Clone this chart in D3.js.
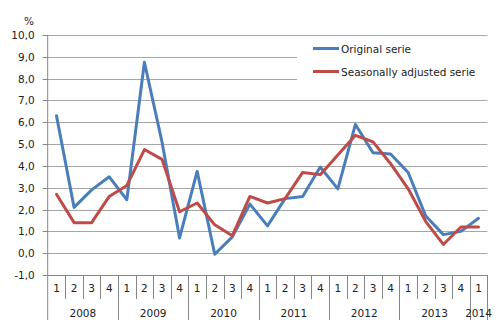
<!DOCTYPE html>
<html>
<head>
<meta charset="utf-8">
<script src="https://cdn.jsdelivr.net/npm/d3@7"></script>
<style>
  html, body { margin: 0; padding: 0; background: #fff; }
  svg { display: block; font-family: "DejaVu Sans", Verdana, sans-serif; }
</style>
</head>
<body>
<svg id="chart" width="501" height="327"></svg>
<script>
const years = ["2008", "2009", "2010", "2011", "2012", "2013", "2014"];
const quartersPerYear = [4, 4, 4, 4, 4, 4, 1];
const yTicks = [-1, 0, 1, 2, 3, 4, 5, 6, 7, 8, 9, 10];
const seriesNames = ["Original serie", "Seasonally adjusted serie"];
const original = [6.3, 2.1, 2.9, 3.5, 2.45, 8.75, 5.1, 0.7, 3.75, -0.05, 0.75, 2.25, 1.25, 2.5, 2.6, 3.95, 2.95, 5.9, 4.6, 4.55, 3.7, 1.7, 0.85, 1.0, 1.6];
const adjusted = [2.7, 1.4, 1.4, 2.6, 3.1, 4.75, 4.3, 1.9, 2.3, 1.3, 0.8, 2.6, 2.3, 2.5, 3.7, 3.6, 4.5, 5.4, 5.1, 4.1, 2.95, 1.45, 0.4, 1.2, 1.2];

(function () {
const categories = [];
years.forEach((yr, i) => {
  for (let q = 1; q <= quartersPerYear[i]; q++) categories.push({ key: yr + "-" + q, year: yr, q: String(q) });
});

const svg = d3.select("#chart");
const pLeft = 47.7, pRight = 487.3, pTop = 35, pBottom = 275;
const x = d3.scaleBand().domain(categories.map(c => c.key)).range([pLeft, pRight]);
const y = d3.scaleLinear().domain([-1, 10]).range([pBottom, pTop]);

const gridColor = "#a6a6a6";
const axisColor = "#868686";

// gridlines
svg.append("g").selectAll("line").data(yTicks.filter(t => t > -1)).join("line")
  .attr("x1", pLeft).attr("x2", pRight)
  .attr("y1", d => Math.round(y(d)) + 0.5).attr("y2", d => Math.round(y(d)) + 0.5)
  .attr("stroke", gridColor).attr("stroke-width", 1);

// legend background (covers gridlines)
svg.append("rect").attr("x", 297).attr("y", 40).attr("width", 204).attr("height", 54).attr("fill", "#fff");

// y axis
const yAxis = d3.axisLeft(y).tickValues(yTicks).tickSize(5).tickPadding(8)
  .tickFormat(d => d.toFixed(1).replace(".", ","));
const gy = svg.append("g").attr("transform", `translate(${pLeft},0)`).call(yAxis);
gy.select(".domain").remove();
gy.selectAll(".tick line").attr("stroke", axisColor);
gy.selectAll(".tick text").attr("font-size", "10.5px").attr("fill", "#222").style("font-family", "DejaVu Sans");
gy.selectAll(".tick").attr("transform", d => `translate(0,${Math.round(y(d)) + 0.5})`);

// left axis line extending into category area
svg.append("line").attr("x1", pLeft).attr("x2", pLeft).attr("y1", pTop).attr("y2", 320).attr("stroke", axisColor);
// bottom axis line
svg.append("line").attr("x1", pLeft).attr("x2", pRight).attr("y1", pBottom + 0.5).attr("y2", pBottom + 0.5).attr("stroke", axisColor);

// category separators
const bw = x.bandwidth();
const seps = categories.map((c, i) => ({ xpos: x(c.key), yearStart: i === 0 || categories[i - 1].year !== c.year }));
seps.push({ xpos: pRight, yearStart: true });
svg.append("g").selectAll("line").data(seps.slice(1)).join("line")
  .attr("x1", d => Math.round(d.xpos) + 0.5).attr("x2", d => Math.round(d.xpos) + 0.5)
  .attr("y1", pBottom).attr("y2", d => d.yearStart ? 320 : 299)
  .attr("stroke", axisColor);

// quarter labels
svg.append("g").selectAll("text").data(categories).join("text")
  .attr("x", d => x(d.key) + bw / 2).attr("y", 292)
  .attr("text-anchor", "middle").attr("font-size", "10.5px").attr("fill", "#222")
  .text(d => d.q);

// year labels
const yearCenters = years.map(yr => {
  const cs = categories.filter(c => c.year === yr);
  return { year: yr, cx: (x(cs[0].key) + x(cs[cs.length - 1].key) + bw) / 2 };
});
svg.append("g").selectAll("text").data(yearCenters).join("text")
  .attr("x", d => d.cx).attr("y", 316.5)
  .attr("text-anchor", "middle").attr("font-size", "10.5px").attr("fill", "#222")
  .text(d => d.year);

// % label
svg.append("text").attr("x", 29).attr("y", 25).attr("text-anchor", "middle")
  .attr("font-size", "10.5px").attr("fill", "#222").text("%");

// series lines
const colors = ["#4a7ebb", "#be4b48"];
const line = d3.line().x((d, i) => x(categories[i].key) + bw / 2).y(d => y(d));
[original, adjusted].forEach((s, k) => {
  svg.append("path").datum(s).attr("d", line)
    .attr("fill", "none").attr("stroke", colors[k]).attr("stroke-width", 3)
    .attr("stroke-linejoin", "round").attr("stroke-linecap", "round");
});

// legend
const leg = svg.append("g");
seriesNames.forEach((name, k) => {
  const ly = k === 0 ? 48.5 : 71.5;
  leg.append("line").attr("x1", 313).attr("x2", 339).attr("y1", ly).attr("y2", ly)
    .attr("stroke", colors[k]).attr("stroke-width", 3);
  leg.append("text").attr("x", 341).attr("y", ly + 4).attr("font-size", "10.5px").attr("fill", "#222").text(name);
});
})();
</script>
</body>
</html>
